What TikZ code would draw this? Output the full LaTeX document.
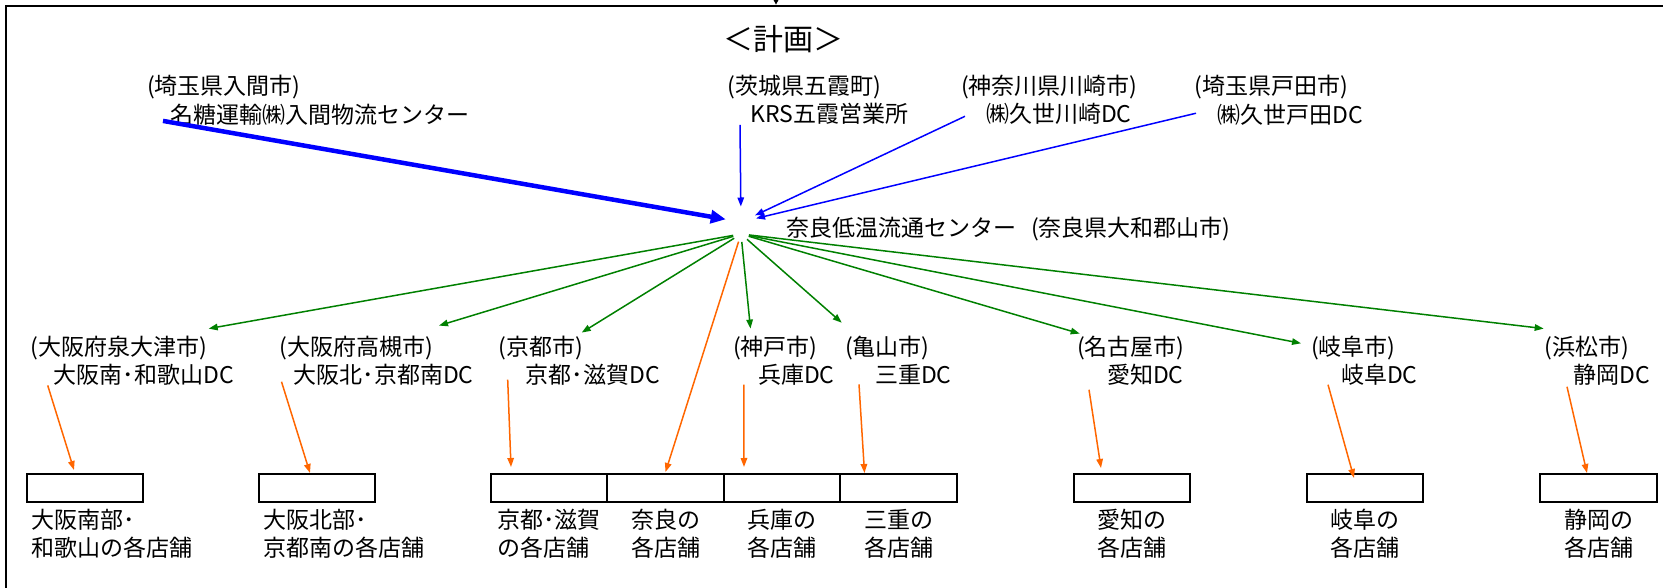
\documentclass[tikz,border=0pt]{standalone}
\usepackage{fontspec}
\setmainfont{Noto Sans CJK JP}
\usetikzlibrary{positioning,arrows.meta}
\newcommand\lblfont{\fontsize{23pt}{28.5pt}\selectfont}
\newcommand\pushin[1][23pt]{\hspace*{#1}}
\definecolor{flowblue}{RGB}{0,0,255}
\definecolor{flowgreen}{RGB}{0,128,0}
\definecolor{floworange}{RGB}{255,102,0}
\tikzstyle{every node}=[inner sep=0pt, outer sep=0pt, font=\lblfont]
\tikzstyle{place}=[anchor=west, align=left]
\tikzstyle{hubpt}=[circle, minimum size=16pt]
\tikzstyle{store}=[draw, line width=2pt, minimum width=116.5pt, minimum height=28pt]
\tikzstyle{shop}=[align=left]
\tikzstyle{inflow}=[draw=flowblue, line width=1.5pt, -{Triangle[length=9pt,width=6.5pt]}]
\tikzstyle{bigflow}=[inflow, line width=4.5pt, -{Triangle[length=15pt,width=13pt]}]
\tikzstyle{outflow}=[draw=flowgreen, line width=1.5pt, -{Triangle[length=9pt,width=6.5pt]}]
\tikzstyle{delivery}=[draw=floworange, line width=1.5pt, -{Triangle[length=9pt,width=6.5pt]}]

\begin{document}
\begin{tikzpicture}[x=1pt,y=1pt]
    \useasboundingbox (0,0) rectangle (1663,-588);
    \draw [line width=2.5pt] (6,-595) -- (6,-6) -- (1670,-6);
    \coordinate (topin) at (776,-4.6);
    \draw [line width=1pt, -{Triangle[length=4.5pt,width=4.5pt]}] ([yshift=12pt]topin) -- (topin);
    \node [font=\fontsize{30pt}{36pt}\selectfont] (title) at (783,-39) {＜計画＞};

    \node [place] (iruma) at (147,-100) {(埼玉県入間市)\\\pushin 名糖運輸㈱入間物流センター};
    \node [place] (goka) at (727.6,-100) {(茨城県五霞町)\\\pushin KRS五霞営業所};
    \node [place] (kawasaki) at (961,-100) {(神奈川県川崎市)\\\pushin[20pt] ㈱久世川崎DC};
    \node [place] (toda) at (1194.5,-100) {(埼玉県戸田市)\\\pushin ㈱久世戸田DC};

    \node [hubpt, minimum size=31pt] (hubin) at (741,-222) {};
    \node [hubpt] (hub) at (741,-234) {};
    \node [place] (naratext) at (786,-229) {奈良低温流通センター\hspace{15pt}(奈良県大和郡山市)};

    \node [place] (izumiotsu) at (30.7,-360.5) {(大阪府泉大津市)\\\pushin 大阪南･和歌山DC};
    \node [place] (takatsuki) at (279.5,-360.5) {(大阪府高槻市)\\\pushin[9pt] 大阪北･京都南DC};
    \node [place] (kyoto) at (498.7,-360.5) {(京都市)\\\pushin[22pt] 京都･滋賀DC};
    \node [place] (kobe) at (733,-360.5) {(神戸市)\\\pushin[20pt] 兵庫DC};
    \node [place] (kameyama) at (845,-360.5) {(亀山市)\\\pushin[25pt] 三重DC};
    \node [place] (nagoya) at (1077,-360.5) {(名古屋市)\\\pushin[25pt] 愛知DC};
    \node [place] (gifu) at (1311,-360.5) {(岐阜市)\\\pushin[25pt] 岐阜DC};
    \node [place] (hamamatsu) at (1544.7,-360.5) {(浜松市)\\\pushin[24pt] 静岡DC};

    \node [store] (osakas) at (85,-488) {};
    \node [store] (osakan) at (317,-488) {};
    \node [store] (kyotost) at (549,-488) {};
    \node [store, right=0pt of kyotost] (narast) {};
    \node [store, right=0pt of narast] (hyogost) {};
    \node [store, right=0pt of hyogost] (miest) {};
    \node [store] (aichist) at (1132,-488) {};
    \node [store] (gifust) at (1365,-488) {};
    \node [store] (shizuokast) at (1598.5,-488) {};

    \node [shop, below right=7pt and 4.5pt of osakas.south west] (osakasl) {大阪南部･\\和歌山の各店舗};
    \node [shop, below right=7pt and 4.5pt of osakan.south west] (osakanl) {大阪北部･\\京都南の各店舗};
    \node [shop, below=7pt of kyotost] (kyotol) {京都･滋賀\\の各店舗};
    \node [shop, below=7pt of narast] (naral) {奈良の\\各店舗};
    \node [shop, below=7pt of hyogost] (hyogol) {兵庫の\\各店舗};
    \node [shop, below=7pt of miest] (miel) {三重の\\各店舗};
    \node [shop, below=7pt of aichist] (aichil) {愛知の\\各店舗};
    \node [shop, below=7pt of gifust] (giful) {岐阜の\\各店舗};
    \node [shop, below=7pt of shizuokast] (shizuokal) {静岡の\\各店舗};

    \draw [bigflow] ([shift={(16,4)}]iruma.south west) -- (hubin);
    \draw [inflow] ([shift={(12.4,0)}]goka.south west) -- (hubin);
    \draw [inflow] ([shift={(4,8.7)}]kawasaki.south west) -- (hubin);
    \draw [inflow] ([shift={(1.5,11.7)}]toda.south west) -- (hubin);

    \draw [outflow] (hub) -- ([shift={(178,7)}]izumiotsu.north west);
    \draw [outflow] (hub) -- ([shift={(159.5,10)}]takatsuki.north west);
    \draw [outflow] (hub) -- ([shift={(83,3)}]kyoto.north west);
    \draw [outflow] (hub) -- ([shift={(17.5,7)}]kobe.north west);
    \draw [outflow] (hub) -- ([shift={(-3.3,13.3)}]kameyama.north west);
    \draw [outflow] (hub) -- ([shift={(2.7,2)}]nagoya.north west);
    \draw [outflow] (hub) -- ([shift={(-10,-7.7)}]gifu.north west);
    \draw [outflow] (hub) -- ([shift={(-1,7)}]hamamatsu.north west);

    \draw [delivery] ([xshift=17pt]izumiotsu.south west) -- ([shift={(-11,4)}]osakas.north);
    \draw [delivery] ([shift={(2,3.7)}]takatsuki.south west) -- ([shift={(-7,1)}]osakan.north);
    \draw [delivery] ([shift={(9,5.7)}]kyoto.south west) -- ([shift={(-38,7)}]kyotost.north);
    \draw [delivery] (hub) -- ([yshift=2pt]narast.north);
    \draw [delivery] ([shift={(10.8,0.7)}]kobe.south west) -- ([shift={(-38,7)}]hyogost.north);
    \draw [delivery] ([shift={(14,0.7)}]kameyama.south west) -- ([shift={(-34,1)}]miest.north);
    \draw [delivery] ([shift={(12,-4.3)}]nagoya.south west) -- ([shift={(-31,6)}]aichist.north);
    \draw [delivery] ([shift={(17,0.7)}]gifu.south west) -- ([shift={(-11,-4)}]gifust.north);
    \draw [delivery] ([shift={(22.3,-1.3)}]hamamatsu.south west) -- ([shift={(-11.5,1)}]shizuokast.north);
\end{tikzpicture}
\end{document}
